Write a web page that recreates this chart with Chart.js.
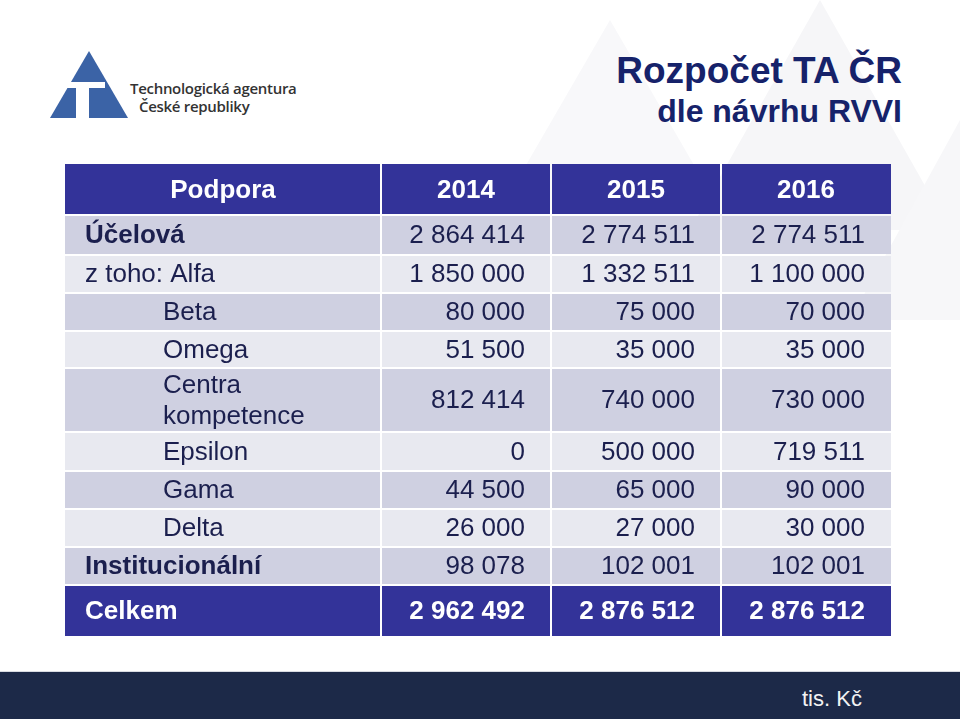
<!DOCTYPE html>
<html lang="cs">
<head>
<meta charset="utf-8">
<script src="https://cdn.jsdelivr.net/npm/chart.js@4"></script>
<style>
  html, body { margin: 0; padding: 0; }
  body { width: 960px; height: 719px; position: relative; overflow: hidden; background: #fff; font-family: "Liberation Sans", Arial, sans-serif; }
  .tri { position: absolute; width: 0; height: 0; border-style: solid; border-color: transparent; }
  #logo { position: absolute; left: 48px; top: 48px; }
  .logoText { position: absolute; color: #333; font-family: "Open Sans", "Liberation Sans", sans-serif; font-size: 15px; font-weight: 600; letter-spacing: -0.3px; }
  #title { position: absolute; right: 58px; top: 50px; text-align: right; color: #16226a; font-weight: bold; }
  #title .t1 { font-size: 37px; line-height: 42px; }
  #title .t2 { font-size: 32px; line-height: 38px; }
  #wrap { position: absolute; left: 65px; top: 164px; width: 826px; height: 472px; }
  #footer { position: absolute; left: 0; top: 671px; width: 960px; height: 48px; background: #1c2948; border-top: 1px solid #d8dbe2; }
  #footer span { position: absolute; left: 802px; top: 14px; color: #f2f2f2; font-size: 22px; }
</style>
</head>
<body>
<div class="tri" style="left:500px;top:20px;border-width:0 110px 190px 110px;border-bottom-color:#f8f8fa;"></div>
<div class="tri" style="left:690px;top:0px;border-width:0 130px 230px 130px;border-bottom-color:#f6f6f8;"></div>
<div class="tri" style="left:850px;top:120px;border-width:0 110px 200px 110px;border-bottom-color:#f7f7f9;"></div>

<svg id="logo" width="90" height="80" viewBox="48 48 90 80">
  <polygon points="89,51 128,118 50,118" fill="#3b63a6"/>
  <rect x="66" y="82" width="39" height="6" fill="#fff"/>
  <rect x="76" y="86" width="13" height="34" fill="#fff"/>
</svg>
<div class="logoText" style="left:130px;top:78px;">Technologická agentura</div>
<div class="logoText" style="left:139px;top:96px;">České republiky</div>

<div id="title"><div class="t1">Rozpočet TA ČR</div><div class="t2">dle návrhu RVVI</div></div>

<div id="wrap"><canvas id="tabulka" width="826" height="472"></canvas></div>
<div id="footer"><span>tis. Kč</span></div>

<script>
// data
const headLabel = "Podpora";
const years = ["2014", "2015", "2016"];
const rows = ["Účelová", "z toho: Alfa", "Beta", "Omega", ["Centra", "kompetence"], "Epsilon", "Gama", "Delta", "Institucionální"];
const v2014 = [2864414, 1850000, 80000, 51500, 812414, 0, 44500, 26000, 98078];
const v2015 = [2774511, 1332511, 75000, 35000, 740000, 500000, 65000, 27000, 102001];
const v2016 = [2774511, 1100000, 70000, 35000, 730000, 719511, 90000, 30000, 102001];
const totalLabel = "Celkem";
const totals = [2962492, 2876512, 2876512];

// layout (widths / heights in scale units)
const colWidths = [316, 170, 170, 170];
const rowHeights = [51, 40, 38, 38, 37, 64, 39, 38, 38, 38, 51];
const boldRows = [0, 8];
const indentRows = [2, 3, 4, 5, 6, 7];

const colEdges = [0];
colWidths.forEach(w => colEdges.push(colEdges[colEdges.length - 1] + w));
const rowEdges = [0];
rowHeights.forEach(h => rowEdges.push(rowEdges[rowEdges.length - 1] + h));

const series = [v2014, v2015, v2016];
const fmt = n => String(n).replace(/\B(?=(\d{3})+(?!\d))/g, " ");

// one point per value cell, at the cell centre
const points = [];
series.forEach((s, c) => {
  s.forEach((v, r) => {
    points.push({ x: (colEdges[c + 1] + colEdges[c + 2]) / 2, y: (rowEdges[r + 1] + rowEdges[r + 2]) / 2, v: v });
  });
});

const NAVY = "#333399";
const DARK = "#cfd0e1";
const LIGHT = "#e8e9f0";
const TEXT = "#1b1f4e";

const tablePlugin = {
  id: "tablePlugin",
  beforeDatasetsDraw(chart) {
    const ctx = chart.ctx;
    const xs = chart.scales.x, ys = chart.scales.y;
    const X = v => xs.getPixelForValue(v);
    const Y = v => ys.getPixelForValue(v);
    const gap = 1;
    const nRows = rowHeights.length;

    function cell(c, r, fill) {
      const x0 = X(colEdges[c]) + (c > 0 ? gap : 0);
      const x1 = X(colEdges[c + 1]) - (c < 3 ? gap : 0);
      const y0 = Y(rowEdges[r]) + (r > 0 ? gap : 0);
      const y1 = Y(rowEdges[r + 1]) - (r < nRows - 1 ? gap : 0);
      ctx.fillStyle = fill;
      ctx.fillRect(x0, y0, x1 - x0, y1 - y0);
    }

    ctx.save();
    for (let r = 0; r < nRows; r++) {
      for (let c = 0; c < 4; c++) {
        let fill;
        if (r === 0 || r === nRows - 1) fill = NAVY;
        else fill = (r % 2 === 1) ? DARK : LIGHT;
        cell(c, r, fill);
      }
    }

    ctx.textBaseline = "middle";
    const midY = r => (Y(rowEdges[r]) + Y(rowEdges[r + 1])) / 2 + 1;

    // header
    ctx.fillStyle = "#ffffff";
    ctx.font = "bold 26px 'Liberation Sans', Arial, sans-serif";
    ctx.textAlign = "center";
    ctx.fillText(headLabel, (X(colEdges[0]) + X(colEdges[1])) / 2, midY(0));
    years.forEach((y, i) => ctx.fillText(y, (X(colEdges[i + 1]) + X(colEdges[i + 2])) / 2, midY(0)));

    // row labels
    ctx.textAlign = "left";
    rows.forEach((lab, i) => {
      const r = i + 1;
      const bold = boldRows.includes(i);
      ctx.font = (bold ? "bold " : "") + "26px 'Liberation Sans', Arial, sans-serif";
      ctx.fillStyle = TEXT;
      const x = X(colEdges[0]) + (indentRows.includes(i) ? 98 : 20);
      if (Array.isArray(lab)) {
        ctx.fillText(lab[0], x, midY(r) - 15);
        ctx.fillText(lab[1], x, midY(r) + 16);
      } else {
        ctx.fillText(lab, x, midY(r));
      }
    });

    // values
    ctx.textAlign = "right";
    ctx.font = "26px 'Liberation Sans', Arial, sans-serif";
    ctx.fillStyle = TEXT;
    points.forEach((p, k) => {
      const c = Math.floor(k / rows.length) + 1;
      ctx.fillText(fmt(p.v), X(colEdges[c + 1]) - 26, Y(p.y) + 1);
    });

    // total row
    const tr = nRows - 1;
    ctx.fillStyle = "#ffffff";
    ctx.font = "bold 26px 'Liberation Sans', Arial, sans-serif";
    ctx.textAlign = "left";
    ctx.fillText(totalLabel, X(colEdges[0]) + 20, midY(tr));
    ctx.textAlign = "right";
    totals.forEach((t, i) => ctx.fillText(fmt(t), X(colEdges[i + 2]) - 26, midY(tr)));
    ctx.restore();
  }
};

new Chart(document.getElementById("tabulka"), {
  type: "scatter",
  data: {
    datasets: [{
      label: headLabel,
      data: points,
      pointRadius: 0,
      pointHoverRadius: 0
    }]
  },
  options: {
    responsive: false,
    animation: false,
    events: [],
    layout: { padding: 0 },
    plugins: { legend: { display: false }, tooltip: { enabled: false } },
    scales: {
      x: { type: "linear", display: false, min: 0, max: colEdges[colEdges.length - 1] },
      y: { type: "linear", display: false, reverse: true, min: 0, max: rowEdges[rowEdges.length - 1] }
    }
  },
  plugins: [tablePlugin]
});
</script>
</body>
</html>
